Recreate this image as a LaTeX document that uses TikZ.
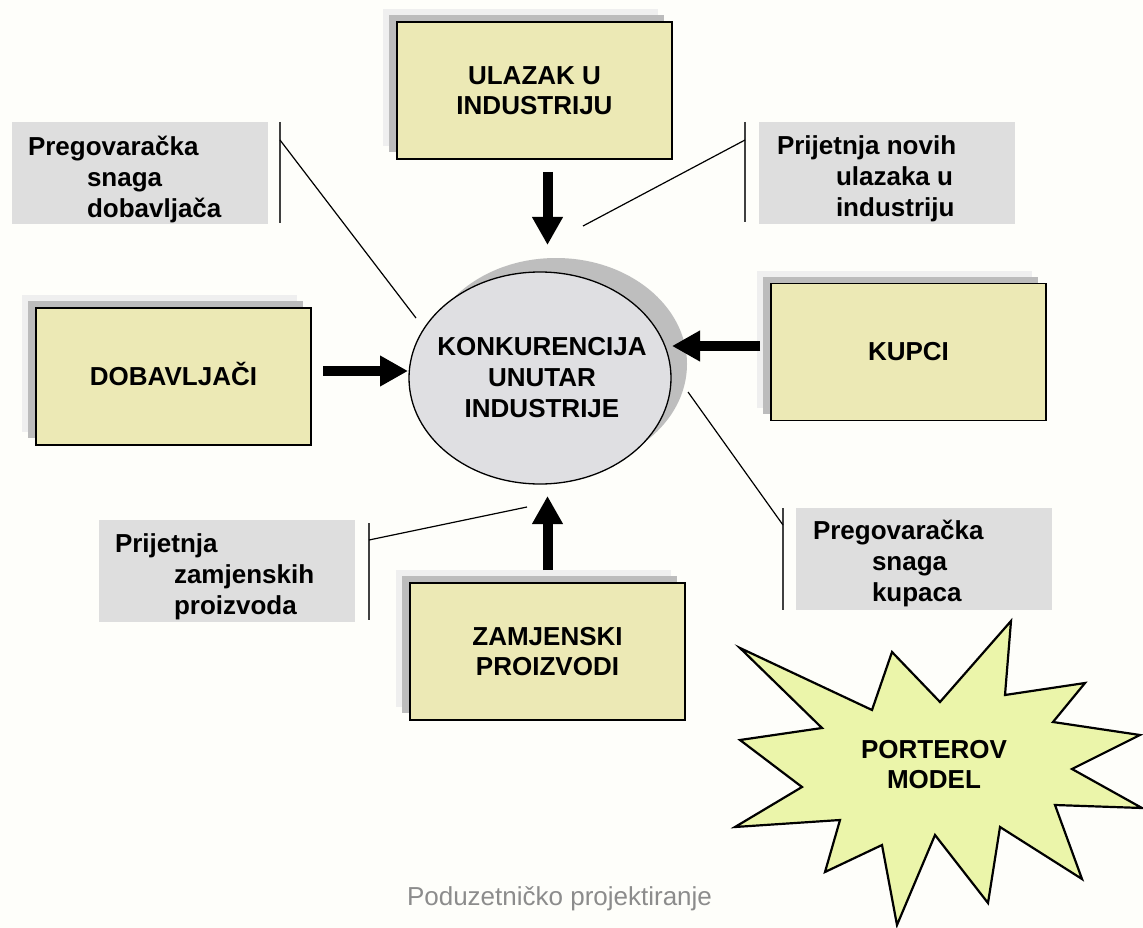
\documentclass[tikz,border=0pt]{standalone}
\usepackage{fontspec}
\setmainfont{Liberation Sans}
\usetikzlibrary{arrows.meta,shapes.geometric,shadows}
\definecolor{bg}{RGB}{254,254,250}
\definecolor{boxyel}{RGB}{236,233,181}
\definecolor{shlight}{RGB}{239,239,239}
\definecolor{shdark}{RGB}{188,188,188}
\definecolor{lblgray}{RGB}{222,222,222}
\definecolor{ellgray}{RGB}{223,223,226}
\definecolor{ellshadow}{RGB}{190,190,190}
\definecolor{staryel}{RGB}{235,245,170}
\definecolor{footgray}{RGB}{140,140,140}
\newcommand\lbl[3]{\vtop{\baselineskip=31pt\hbox{#1}\hbox{\hspace*{59pt}#2}\hbox{\hspace*{59pt}#3}}}
\begin{document}
\begin{tikzpicture}[x=1pt,y=-1pt,
  ybox/.style={draw=black, line width=1.3pt, fill=boxyel, minimum width=275pt, minimum height=137pt,
    inner sep=0pt, align=center, font=\bfseries\fontsize{26}{30}\selectfont,
    general shadow={fill=shlight, shadow xshift=-14pt, shadow yshift=13pt},
    general shadow={fill=shdark, shadow xshift=-8pt, shadow yshift=7pt}},
  gbox/.style={fill=lblgray, minimum width=256pt, minimum height=102pt, inner sep=0pt},
  gtext/.style={anchor=base west, inner sep=0pt, font=\bfseries\fontsize{26}{31}\selectfont},
  bar/.style={draw=black!75, line width=1.5pt},
  leader/.style={draw=black, line width=1.2pt},
  bigarrow/.style={line width=10pt, -{Triangle[width=29pt,length=28pt]}},
  ctext/.style={align=center, inner sep=0pt, font=\bfseries\fontsize{26}{31}\selectfont}
]
\useasboundingbox (0,0) rectangle (1143,928);
\fill[bg] (0,0) rectangle (1143,928);

% central ellipse
\node[ellipse, draw=black, line width=1.3pt, fill=ellgray, minimum width=262pt, minimum height=212pt, inner sep=0pt,
  general shadow={fill=ellshadow, shadow xshift=16pt, shadow yshift=14pt}] (konk) at (540,378) {};
\node[ctext] (konkt) at ([xshift=2pt]konk.center) {KONKURENCIJA\\UNUTAR\\INDUSTRIJE};

% yellow boxes
\node[ybox] (ulazak) at (534.5,90.5) {ULAZAK U\\INDUSTRIJU};
\node[ybox, text height=19pt] (dobav) at (173.5,376.5) {DOBAVLJAČI};
\node[ybox] (kupci) at (908.5,352) {KUPCI};
\node[ybox] (zamj) at (547.5,651.5) {ZAMJENSKI\\PROIZVODI};

% gray labels
\node[gbox] (g1) at (140,173.5) {};
\node[gtext] (g1t) at ([shift={(16,33)}]g1.north west) {\lbl{Pregovaračka}{snaga}{dobavljača}};
\node[gbox] (g2) at (887,173) {};
\node[gtext] (g2t) at ([shift={(18,33)}]g2.north west) {\lbl{Prijetnja novih}{ulazaka u}{industriju}};
\node[gbox] (g3) at (227,571) {};
\node[gtext] (g3t) at ([shift={(16,33)}]g3.north west) {\lbl{Prijetnja}{zamjenskih}{proizvoda}};
\node[gbox] (g4) at (924,559) {};
\node[gtext] (g4t) at ([shift={(17,32)}]g4.north west) {\lbl{Pregovaračka}{snaga}{kupaca}};

% leader lines
\coordinate (b1t) at (280,122); \coordinate (b1b) at (280,223);
\coordinate (b1m) at (280,140); \coordinate (e1) at (416,318);
\coordinate (b2t) at (745,122); \coordinate (b2b) at (745,222);
\coordinate (b2m) at (745,140); \coordinate (e2) at (583,226);
\coordinate (b3t) at (369,523); \coordinate (b3b) at (369,620);
\coordinate (b3m) at (369,540); \coordinate (e3) at (527,507);
\coordinate (b4t) at (783,508); \coordinate (b4b) at (783,610);
\coordinate (b4m) at (783,525); \coordinate (e4) at (688,392);
\draw[bar] (b1t) -- (b1b); \draw[leader] (b1m) -- (e1);
\draw[bar] (b2t) -- (b2b); \draw[leader] (b2m) -- (e2);
\draw[bar] (b3t) -- (b3b); \draw[leader] (b3m) -- (e3);
\draw[bar] (b4t) -- (b4b); \draw[leader] (b4m) -- (e4);

% thick arrows
\coordinate (a1s) at (547.5,172); \coordinate (a1e) at (547.5,245);
\coordinate (a2s) at (323,371);   \coordinate (a2e) at (408,371);
\coordinate (a3s) at (760,346);   \coordinate (a3e) at (672,346);
\coordinate (a4s) at (547.5,570); \coordinate (a4e) at (547.5,496);
\draw[bigarrow] (a1s) -- (a1e);
\draw[bigarrow] (a2s) -- (a2e);
\draw[bigarrow] (a3s) -- (a3e);
\draw[bigarrow] (a4s) -- (a4e);

% star
\draw[draw=black, line width=2.2pt, fill=staryel, line join=miter]
  (1011,621) -- (1005,695) -- (1085,683) -- (1053,722) -- (1140,735) -- (1072,769)
  -- (1142,808) -- (1055,805) -- (1082,879) -- (1000,827) -- (988,903) -- (935,835)
  -- (897,925) -- (882,845) -- (825,872) -- (840,820) -- (735,827) -- (802,787)
  -- (740,740) -- (822,728) -- (740,648) -- (872,710) -- (892,652) -- (940,702) -- cycle;
\node[ctext, font=\bfseries\fontsize{26}{30}\selectfont] (porter) at (934,765) {PORTEROV\\MODEL};

% footer
\node[anchor=base, inner sep=0pt, text=footgray, font=\fontsize{26}{31}\selectfont] (foot) at (559.5,905) {Poduzetničko projektiranje};
\end{tikzpicture}
\end{document}
